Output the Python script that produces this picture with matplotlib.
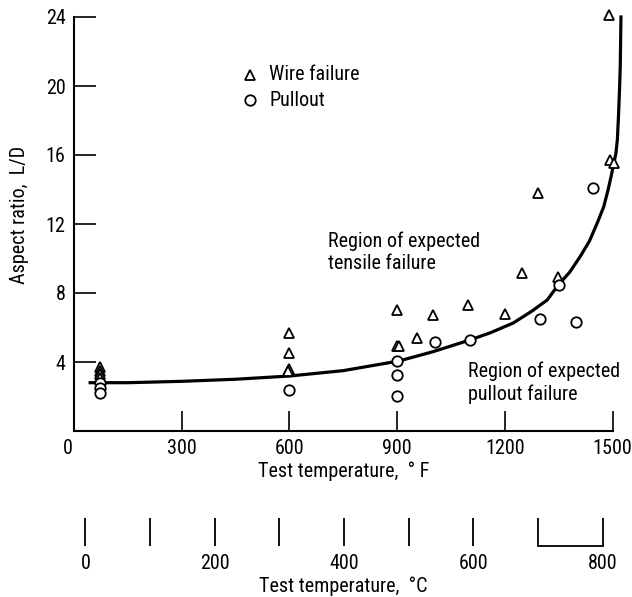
import matplotlib
matplotlib.use('Agg')
import matplotlib.pyplot as plt
import matplotlib.transforms as mtransforms
from matplotlib import font_manager

# narrow sans like the original lettering, whichever is installed
installed = {f.name for f in font_manager.fontManager.ttflist}
narrow = [n for n in ['Liberation Sans Narrow', 'DejaVu Sans Condensed', 'Roboto Condensed',
                      'Open Sans Condensed', 'Noto Sans Condensed'] if n in installed]
if narrow:
    plt.rcParams['font.family'] = [narrow[0], 'DejaVu Sans']
    plt.rcParams['font.stretch'] = 'condensed'
    FS = 14.5
else:
    plt.rcParams['font.family'] = ['Liberation Sans', 'DejaVu Sans']
    FS = 12.5

# wire failure (triangles), temperature in F, aspect ratio L/D
wire_temp = [72, 72, 72, 72, 600, 600, 600, 595, 900, 900, 905, 955, 1000, 1097,
             1200, 1248, 1292, 1348, 1490, 1493, 1504]
wire_ld = [3.7, 3.5, 3.3, 3.1, 5.7, 4.5, 3.6, 3.5, 7.0, 4.95, 4.9, 5.4, 6.72, 7.3,
           6.78, 9.16, 13.8, 8.94, 24.1, 15.7, 15.55]

# pullout (circles)
pull_temp = [72, 72, 72, 600, 900, 900, 900, 1006, 1103, 1298, 1351, 1397, 1445]
pull_ld = [2.8, 2.5, 2.2, 2.4, 4.05, 3.25, 2.05, 5.18, 5.28, 6.49, 8.46, 6.34, 14.1]

# boundary curve
curve_temp = [45, 150, 300, 450, 602, 750, 905, 1000, 1103, 1160, 1223, 1275, 1318,
              1348, 1380, 1409, 1435, 1457, 1475, 1487, 1496, 1503, 1509, 1513, 1516,
              1519, 1521, 1523]
curve_ld = [2.8, 2.8, 2.88, 3.0, 3.19, 3.5, 4.06, 4.6, 5.28, 5.7, 6.26, 6.95, 7.6,
            8.46, 9.2, 10.1, 11.0, 12.06, 13.0, 13.97, 14.8, 15.5, 16.1, 16.9, 18.2,
            19.8, 21.1, 24.0]

f_ticks = [0, 300, 600, 900, 1200, 1500]
ld_ticks = [4, 8, 12, 16, 20, 24]
c_ticks = [0, 100, 200, 300, 400, 500, 600, 700, 800]
c_labels = ['0', '', '200', '', '400', '', '600', '', '800']

W, H = 632, 597
fig = plt.figure(figsize=(W / 100, H / 100), dpi=100)
ax = fig.add_axes([74 / W, 1 - 431 / H, 538.7 / W, 414 / H])

ax.plot(curve_temp, curve_ld, color='black', lw=2.3, clip_on=False, zorder=2)
ax.plot(wire_temp, wire_ld, ls='none', marker='^', ms=7, mfc='white', mec='black',
        mew=1.3, clip_on=False, zorder=3)
ax.plot(pull_temp, pull_ld, ls='none', marker='o', ms=7.5, mfc='white', mec='black',
        mew=1.3, clip_on=False, zorder=3)

ax.set_xlim(0, 1500)
ax.set_ylim(0, 24)
ax.spines['top'].set_visible(False)
ax.spines['right'].set_visible(False)
ax.spines['left'].set_linewidth(1.5)
ax.spines['bottom'].set_linewidth(1.5)
ax.set_xticks(f_ticks)
ax.set_yticks(ld_ticks)
ax.tick_params(axis='x', direction='in', length=14.5, width=1.2, pad=6, labelsize=FS)
ax.tick_params(axis='y', direction='in', length=16, width=1.2, pad=6, labelsize=FS)
# the "0" sits a little left of the axis
lab0 = ax.get_xticklabels()[0]
lab0.set_transform(lab0.get_transform() + mtransforms.ScaledTranslation(-6 / 100, 0, fig.dpi_scale_trans))

ax.set_xlabel('Test temperature,  ° F', fontsize=FS, labelpad=2)
fig.text(20 / W, 1 - 215 / H, 'Aspect ratio,  L/D', rotation=90, fontsize=FS,
         ha='center', va='center')

# legend
ax.plot([0.327], [0.860], transform=ax.transAxes, marker='^', ms=7, mfc='white',
        mec='black', mew=1.3, ls='none')
ax.plot([0.327], [0.7995], transform=ax.transAxes, marker='o', ms=7.5, mfc='white',
        mec='black', mew=1.3, ls='none')
ax.text(0.362, 0.860, 'Wire failure', transform=ax.transAxes, fontsize=FS, va='center')
ax.text(0.362, 0.7995, 'Pullout', transform=ax.transAxes, fontsize=FS, va='center')

ax.text(0.4715, 0.432, 'Region of expected\ntensile failure', transform=ax.transAxes,
        fontsize=FS, va='center', ha='left', linespacing=1.25)
ax.text(0.731, 0.116, 'Region of expected\npullout failure', transform=ax.transAxes,
        fontsize=FS, va='center', ha='left', linespacing=1.25)

# Celsius scale below
ax2 = fig.add_axes([74 / W, 1 - 546 / H, 538.7 / W, 28 / H])
c_in_f = [c * 9 / 5 + 32 for c in c_ticks]
ax2.vlines(c_in_f, 0, 1, color='black', lw=1.3)
ax2.plot([c_in_f[-2], c_in_f[-1]], [0, 0], color='black', lw=1.3, clip_on=False)
ax2.set_xlim(0, 1500)
ax2.set_ylim(0, 1)
for s in ax2.spines.values():
    s.set_visible(False)
ax2.set_yticks([])
ax2.set_xticks(c_in_f)
ax2.set_xticklabels(c_labels)
ax2.tick_params(axis='x', length=0, pad=6, labelsize=FS)
ax2.set_xlabel('Test temperature,  °C', fontsize=FS, labelpad=2)

fig.savefig('out.png', dpi=100)
